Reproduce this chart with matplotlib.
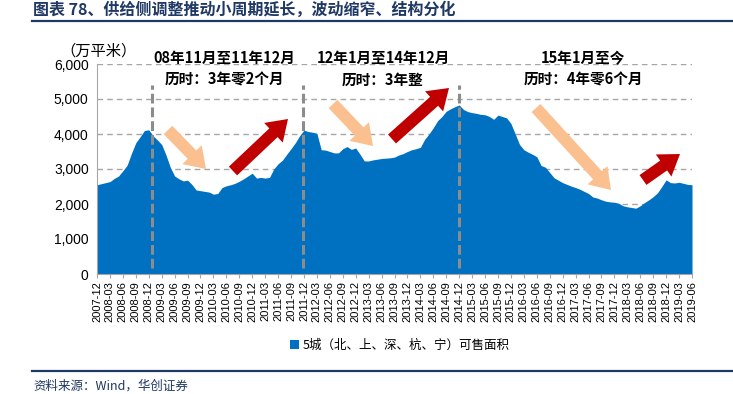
import matplotlib
matplotlib.use("Agg")
import matplotlib.pyplot as plt
from matplotlib.patches import FancyArrow
from matplotlib.transforms import Affine2D
from matplotlib.lines import Line2D

W, H = 733, 394
CJK = ["Noto Sans CJK SC", "DejaVu Sans"]
plt.rcParams["font.family"] = ["Liberation Sans", "Noto Sans CJK SC"]

# monthly samples, index 0 = 2007-12 ... 138 = 2019-06 (万平米)
area = [2550, 2580, 2610, 2640, 2730, 2800, 2950, 3110, 3450, 3750,
        3920, 4100, 4120, 3950, 3830, 3700, 3400, 3050, 2800, 2720,
        2660, 2680, 2560, 2400, 2380, 2360, 2340, 2280, 2300, 2470,
        2520, 2550, 2590, 2650, 2720, 2800, 2880, 2740, 2760, 2740,
        2760, 3000, 3150, 3250, 3420, 3580, 3750, 3950, 4110, 4070,
        4050, 4020, 3550, 3540, 3500, 3460, 3460, 3580, 3640, 3560,
        3600, 3420, 3230, 3230, 3260, 3280, 3300, 3310, 3320, 3340,
        3400, 3440, 3500, 3550, 3580, 3620, 3850, 4000, 4180, 4380,
        4500, 4650, 4720, 4780, 4830, 4700, 4640, 4610, 4590, 4560,
        4550, 4500, 4420, 4540, 4500, 4460, 4300, 4000, 3700, 3550,
        3480, 3420, 3350, 3100, 3050, 2900, 2750, 2680, 2610, 2560,
        2510, 2470, 2420, 2360, 2300, 2200, 2170, 2120, 2080, 2060,
        2050, 2020, 1950, 1920, 1900, 1880, 1950, 2040, 2120, 2210,
        2320, 2500, 2690, 2610, 2600, 2620, 2590, 2560, 2550]
months = list(range(len(area)))

tick_labels = ["2007-12", "2008-03", "2008-06", "2008-09", "2008-12", "2009-03",
               "2009-06", "2009-09", "2009-12", "2010-03", "2010-06", "2010-09",
               "2010-12", "2011-03", "2011-06", "2011-09", "2011-12", "2012-03",
               "2012-06", "2012-09", "2012-12", "2013-03", "2013-06", "2013-09",
               "2013-12", "2014-03", "2014-06", "2014-09", "2014-12", "2015-03",
               "2015-06", "2015-09", "2015-12", "2016-03", "2016-06", "2016-09",
               "2016-12", "2017-03", "2017-06", "2017-09", "2017-12", "2018-03",
               "2018-06", "2018-09", "2018-12", "2019-03", "2019-06"]
tick_pos = list(range(0, 139, 3))

# cycle boundaries (month index) and their captions
splits = [12.8, 47.8, 84.0]
periods = ["08年11月至11年12月", "12年1月至14年12月", "15年1月至今"]
durations = ["历时：3年零2个月", "历时：3年整", "历时：4年零6个月"]
caption_x = [224, 383, 583]

fig = plt.figure(figsize=(W / 100, H / 100), dpi=100)
ax = fig.add_axes([97 / W, 1 - 274 / H, (692 - 97) / W, (274 - 64) / H])

ax.fill_between(months, area, color="#0070C0", lw=0, zorder=2,
                label="5城（北、上、深、杭、宁）可售面积")
ax.vlines(splits, 170, 5400, colors="#8C8C8C", lw=2.2,
          linestyles=(0, (3.2, 1.3)), zorder=3)

ax.set_xlim(0, 138)
ax.set_ylim(0, 6000)
ax.set_yticks(range(0, 6001, 1000))
ax.set_yticklabels([f"{v:,}" for v in range(0, 6001, 1000)], fontsize=10)
ax.set_xticks(tick_pos)
ax.set_xticklabels(tick_labels, rotation=90, fontsize=8)
ax.tick_params(axis="y", length=0, pad=6)
ax.tick_params(axis="x", length=3, color="#A6A6A6", pad=2)
ax.yaxis.grid(True, color="#A6A6A6", lw=1, linestyle=(0, (4, 3)))
ax.set_axisbelow(True)
for s in ["top", "right"]:
    ax.spines[s].set_visible(False)
for s in ["left", "bottom"]:
    ax.spines[s].set_color("#A6A6A6")

# pixel coordinates (origin top-left) for figure decorations
px = Affine2D().scale(1 / W, -1 / H).translate(0, 1) + fig.transFigure

for x0, p, d in zip(caption_x, periods, durations):
    fig.text(x0, 58, p, transform=px, family=CJK, fontsize=10.5,
             fontweight="bold", ha="center", va="center")
    fig.text(x0, 80, d, transform=px, family=CJK, fontsize=10.5,
             fontweight="bold", ha="center", va="center")

arrows = [((168, 130), (206, 169), "#FAC090"),
          ((233, 171), (288, 119), "#C00000"),
          ((333, 104), (373, 146), "#FAC090"),
          ((392, 139), (449, 88), "#C00000"),
          ((536, 108), (611, 190), "#FAC090"),
          ((643, 180), (680, 154), "#C00000")]
for (xa, ya), (xb, yb), c in arrows:
    fig.add_artist(FancyArrow(xa, ya, xb - xa, yb - ya, width=12,
                              head_width=27, head_length=20,
                              length_includes_head=True, color=c, lw=0,
                              transform=px, zorder=5))

fig.text(60, 51, "（万平米）", transform=px, family=CJK, fontsize=11,
         va="center")

fig.text(33, 10, "图表 78、供给侧调整推动小周期延长，波动缩窄、结构分化",
         transform=px, family=CJK, fontsize=11.5, fontweight="bold",
         color="#1F3864", va="center")
fig.add_artist(Line2D([32, 733], [21, 21], transform=px, color="#1F3864", lw=1.6))
fig.add_artist(Line2D([32, 733], [371, 371], transform=px, color="#1F3864", lw=1.6))
fig.text(33, 386, "资料来源：Wind，华创证券", transform=px, family=CJK,
         fontsize=9, style="italic", color="#1F3864", va="center")

fig.legend(loc="center", bbox_to_anchor=(400 / W, 1 - 345 / H), frameon=False,
           handlelength=0.7, handleheight=0.7, handletextpad=0.3,
           prop={"family": CJK, "size": 9})

fig.savefig("out.png", dpi=100)
